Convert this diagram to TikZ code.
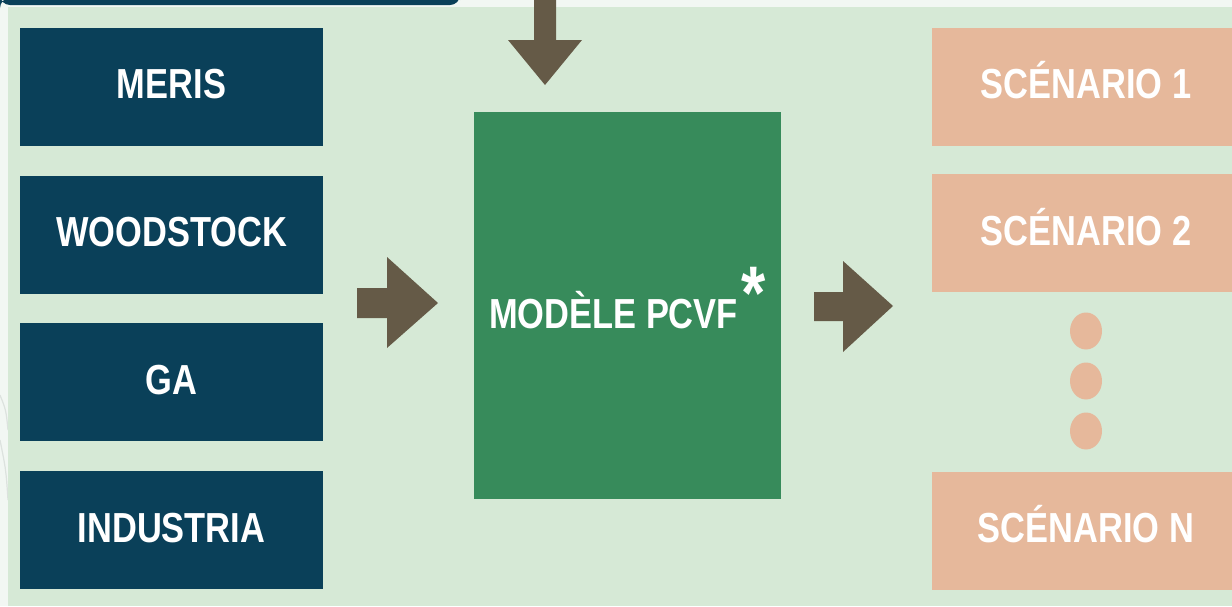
\documentclass[tikz,border=0pt]{standalone}
\usepackage{fontspec}
\setmainfont[FakeStretch=0.82]{Liberation Sans}
\usetikzlibrary{calc,shapes.geometric}

\definecolor{fond}{HTML}{F2F7F3}
\definecolor{trait}{HTML}{DCE2DE}
\definecolor{panneau}{HTML}{D6E9D6}
\definecolor{bleu}{HTML}{0A4059}
\definecolor{vert}{HTML}{378B5B}
\definecolor{saumon}{HTML}{E6B89B}
\definecolor{fleche}{HTML}{655A47}

\tikzset{
  source/.style={fill=bleu,text=white,minimum width=151.5pt,minimum height=59pt,inner sep=0pt,text height=15pt,text depth=3pt,font=\fontsize{21}{21}\selectfont\bfseries},
  scenario/.style={fill=saumon,text=white,minimum width=154pt,minimum height=59pt,inner sep=0pt,text height=15pt,text depth=3pt,font=\fontsize{21}{21}\selectfont\bfseries},
  point/.style={fill=saumon,ellipse,minimum width=16pt,minimum height=18.5pt,inner sep=0pt,draw=none}
}

\begin{document}
\begin{tikzpicture}[x=0.5pt,y=-0.5pt]
\useasboundingbox (0,0) rectangle (1232,606);
\fill[fond] (0,0) rectangle (1232,606);
\draw[trait,line width=0.6pt] (0,395) .. controls (6,410) .. (8,430);
\draw[trait,line width=0.6pt] (0,440) .. controls (6,470) .. (8,500);
\fill[panneau] (8,7) rectangle (1232,606);
\fill[bleu] (0,-2) -- (460,-2) -- (460,0) [rounded corners=5pt] -- (460,5) -- (0,5) -- cycle;

% sources
\node[source] (meris) at (171.5,86.5) {MERIS};
\node[source] (wood) at (171.5,234.5) {WOODSTOCK};
\node[source] (ga) at (171.5,382) {GA};
\node[source] (indus) at (171.5,530) {INDUSTRIA};

% modele
\node[fill=vert,minimum width=153.5pt,minimum height=193.5pt,inner sep=0pt] (pcvf) at (627.5,305.5) {};
\node[text=white,font=\fontsize{21}{21}\selectfont\bfseries,anchor=base] (titre) at (613.5,328) {MODÈLE PCVF};
\node[text=white,font=\fontsize{38}{38}\selectfont\bfseries] (etoile) at (754,293) {*};

% scenarios
\node[scenario] (sc1) at (1086,86.5) {SCÉNARIO 1};
\node[scenario] (sc2) at (1086,233) {SCÉNARIO 2};
\node[scenario] (scn) at (1086,530.5) {SCÉNARIO N};
\node[point] (p1) at (1086,331) {};
\node[point] (p2) at (1086,381) {};
\node[point] (p3) at (1086,431) {};

% fleches
\fill[fleche] (534,0) -- (556,0) -- (556,40) -- (582,40) -- (545,85) -- (508,40) -- (534,40) -- cycle;
\fill[fleche] (357,288) -- (387,288) -- (387,257) -- (438,303) -- (387,348) -- (387,318) -- (357,318) -- cycle;
\fill[fleche] (814,292) -- (843,292) -- (843,261) -- (893,306) -- (843,352) -- (843,321) -- (814,321) -- cycle;
\end{tikzpicture}
\end{document}
